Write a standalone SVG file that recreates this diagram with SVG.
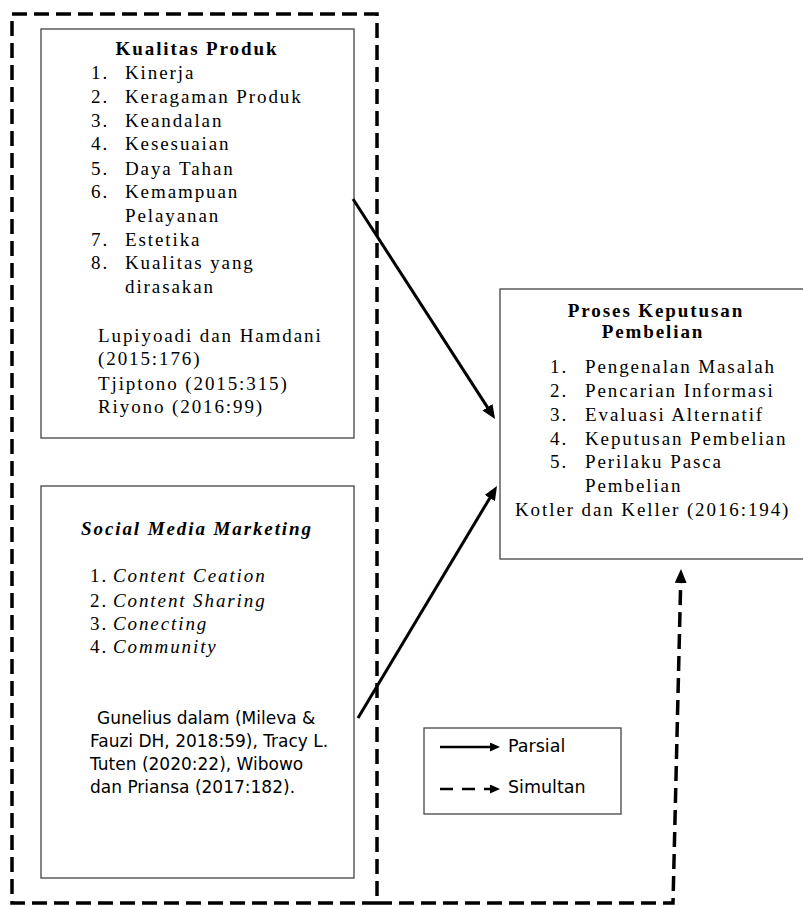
<svg xmlns="http://www.w3.org/2000/svg" width="803" height="906" viewBox="0 0 803 906">
<style>
.box{fill:#fff;stroke:#444;stroke-width:1.3}
text.s{font-family:"Liberation Serif","Times New Roman",serif;font-size:19px;letter-spacing:1.9px;fill:#000}
text.b{font-weight:bold}
text.i{font-style:italic}
text.sans{font-family:"DejaVu Sans","Liberation Sans",sans-serif;font-size:17px;fill:#000}
text.leg{font-family:"DejaVu Sans","Liberation Sans",sans-serif;font-size:17.5px;fill:#000}
.dash{fill:none;stroke:#000;stroke-width:3.5;stroke-dasharray:15 7}
.solid{fill:none;stroke:#000;stroke-width:3}
</style>
<defs>
<marker id="ah" markerUnits="userSpaceOnUse" markerWidth="14" markerHeight="12" refX="1" refY="6" orient="auto">
<path d="M0,0 L14,6 L0,12 z" fill="#000"/>
</marker>
<marker id="ahs" markerUnits="userSpaceOnUse" markerWidth="10" markerHeight="9" refX="1" refY="4.5" orient="auto">
<path d="M0,0 L10,4.5 L0,9 z" fill="#000"/>
</marker>
</defs>
<rect width="803" height="906" fill="#fff"/>

<g id="kualitas-produk">
<rect class="box" x="41" y="29" width="313" height="409"/>
<text class="s b" x="197" y="55" text-anchor="middle">Kualitas Produk</text>
<text class="s" x="91" y="79">1.</text><text class="s" x="125" y="79">Kinerja</text>
<text class="s" x="91" y="103">2.</text><text class="s" x="125" y="103">Keragaman Produk</text>
<text class="s" x="91" y="127">3.</text><text class="s" x="125" y="127">Keandalan</text>
<text class="s" x="91" y="150">4.</text><text class="s" x="125" y="150">Kesesuaian</text>
<text class="s" x="91" y="175">5.</text><text class="s" x="125" y="175">Daya Tahan</text>
<text class="s" x="91" y="198">6.</text><text class="s" x="125" y="198">Kemampuan</text>
<text class="s" x="125" y="222">Pelayanan</text>
<text class="s" x="91" y="246">7.</text><text class="s" x="125" y="246">Estetika</text>
<text class="s" x="91" y="269">8.</text><text class="s" x="125" y="269">Kualitas yang</text>
<text class="s" x="125" y="293">dirasakan</text>
<text class="s" x="98" y="342">Lupiyoadi dan Hamdani</text>
<text class="s" x="98" y="365">(2015:176)</text>
<text class="s" x="98" y="390">Tjiptono (2015:315)</text>
<text class="s" x="98" y="413">Riyono (2016:99)</text>
</g>

<g id="social-media-marketing">
<rect class="box" x="41" y="486" width="313" height="392"/>
<text class="s b i" x="197" y="535" text-anchor="middle">Social Media Marketing</text>
<text class="s" x="90" y="582">1.</text><text class="s i" x="113" y="582">Content Ceation</text>
<text class="s" x="90" y="607">2.</text><text class="s i" x="113" y="607">Content Sharing</text>
<text class="s" x="90" y="630">3.</text><text class="s i" x="113" y="630">Conecting</text>
<text class="s" x="90" y="653">4.</text><text class="s i" x="113" y="653">Community</text>
<text class="sans" x="97" y="724">Gunelius dalam (Mileva &amp;</text>
<text class="sans" x="90" y="747">Fauzi DH, 2018:59), Tracy L.</text>
<text class="sans" x="90" y="770">Tuten (2020:22), Wibowo</text>
<text class="sans" x="90" y="793">dan Priansa (2017:182).</text>
</g>

<g id="proses-keputusan-pembelian">
<rect class="box" x="500" y="289" width="310" height="270"/>
<text class="s b" x="656" y="317" text-anchor="middle">Proses Keputusan</text>
<text class="s b" x="653" y="338" text-anchor="middle">Pembelian</text>
<text class="s" x="550" y="373">1.</text><text class="s" x="585" y="373">Pengenalan Masalah</text>
<text class="s" x="550" y="397">2.</text><text class="s" x="585" y="397">Pencarian Informasi</text>
<text class="s" x="550" y="421">3.</text><text class="s" x="585" y="421">Evaluasi Alternatif</text>
<text class="s" x="550" y="445">4.</text><text class="s" x="585" y="445">Keputusan Pembelian</text>
<text class="s" x="550" y="468">5.</text><text class="s" x="585" y="468">Perilaku Pasca</text>
<text class="s" x="585" y="492">Pembelian</text>
<text class="s" x="515" y="516">Kotler dan Keller (2016:194)</text>
</g>

<g id="legend">
<rect class="box" x="424" y="728" width="197" height="86"/>
<line x1="440" y1="747" x2="491" y2="747" stroke="#000" stroke-width="2.5" marker-end="url(#ahs)"/>
<text class="leg" x="508" y="752">Parsial</text>
<line x1="440" y1="789" x2="491" y2="789" stroke="#000" stroke-width="2.5" stroke-dasharray="13 9" marker-end="url(#ahs)"/>
<text class="leg" x="508" y="793">Simultan</text>
</g>

<g id="connectors">
<rect class="dash" x="12" y="14" width="365" height="889"/>
<path class="dash" d="M377,903 L673,903 L680.7,582" marker-end="url(#ah)"/>
<line class="solid" x1="353" y1="199" x2="488" y2="408.1" marker-end="url(#ah)"/>
<line class="solid" x1="358" y1="718" x2="490.3" y2="497.2" marker-end="url(#ah)"/>
</g>
</svg>
